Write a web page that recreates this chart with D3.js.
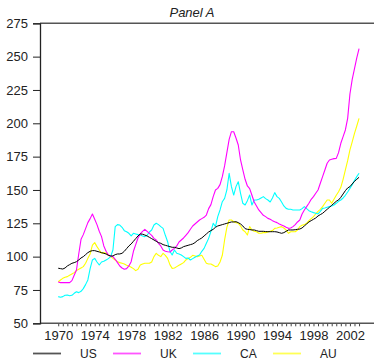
<!DOCTYPE html>
<html>
<head>
<meta charset="utf-8">
<script src="https://cdn.jsdelivr.net/npm/d3@7"></script>
<style>
  body { margin: 0; background: #fff; }
  svg text { font-family: "Liberation Sans", Arial, sans-serif; }
</style>
</head>
<body>
<div id="chart"></div>
<script>
// quarterly values, first quarter 1970 .. first quarter 2003
var startYear = 1970;

var usValues = [
  91.3, 91, 90.7, 91.5,  93, 94, 95, 95.5,  96.2, 97.5, 99, 100,  101.5, 103, 104, 104.5,
  104.5, 104, 103.5, 103,  102.5, 102, 101, 100.5,  100.5, 101.5, 102, 102,  102.5, 104, 106, 108,
  109.5, 111.5, 113.5, 115.5,  117, 116.8, 116.2, 115.5,  114.5, 113.5, 112.5, 111.5,  110.5, 110, 109, 108.5,
  108, 107.5, 107, 107,  106.5, 106, 106.5, 107.5,  108, 108.5, 109, 109.5,  110.5, 112, 113, 114,
  115.5, 117, 118.5, 119.5,  120.5, 122, 123, 123.5,  124, 124.5, 125, 125.5,  126, 126, 126.2, 125.5,
  124.5, 123, 121, 120.5,  120.3, 120, 120, 119.5,  119, 119, 119, 118.8,  118.7, 118.7, 118.7, 118.7,
  118.5, 118, 117.5, 118,  119, 120, 120, 120,  120.2, 120.5, 120.7, 121.5,  123, 124.5, 126, 127,
  128, 129, 130.5, 131.5,  132.5, 134, 135.5, 137,  138.5, 140, 141.5, 142.5,  144.5, 147, 149.5, 151.5,
  152.5, 154.5, 156.5, 158,  159.5
];

var ukValues = [
  81, 80.5, 80.5, 80.5,  80.5, 80.5, 82, 86,  90, 102, 113, 116.5,  121, 125.5, 128.5, 132,
  128, 124, 119, 115,  108, 104, 101.2, 100.5,  100, 98, 95.5, 93,  91.5, 90.5, 91, 93,
  96.2, 104, 109, 114,  117, 119, 120.5, 119,  117.5, 116, 113.7, 112.5,  110, 108, 105, 104,
  103.7, 103.5, 105, 106.2,  108, 111, 112.5, 114,  116, 118, 120.5, 123,  124.5, 126, 127.5, 128.5,
  129.5, 131.2, 136, 139,  145, 150, 151.2, 154,  160, 168, 178, 188,  193.7, 193.7, 189, 183.7,
  172.5, 165, 158, 153,  151, 146, 141, 138,  135, 133, 131, 130,  128.7, 128, 127, 126.2,
  125.5, 124.5, 123.7, 123,  122, 121.2, 121.5, 122.5,  124, 126, 127.5, 132,  135, 137.5, 140, 143,
  145, 147.5, 150, 155,  160, 165, 170, 172.5,  173, 173.5, 173.7, 178,  185, 190, 195, 203.7,
  222, 233, 241, 249,  256
];

var caValues = [
  70, 69.5, 70, 71,  71.2, 70.7, 71, 72.5,  73.7, 73, 74, 76,  79, 82.5, 91, 97.5,
  98.7, 96, 93.7, 96,  96.5, 97.5, 98.5, 100,  105, 122.5, 124, 123.7,  122, 119.5, 118.7, 117.5,
  115.5, 117.5, 117, 116.5,  116.2, 115.5, 115, 116,  118.5, 120, 123.7, 125,  124, 122.5, 121.2, 116,
  111.2, 104, 101.2, 105,  102.5, 102, 101.2, 100,  98.7, 99, 97.5, 98.5,  99.5, 100.5, 101.2, 104,
  106.2, 110, 113.7, 119,  125, 122.5, 130, 135,  141.2, 143.7, 150, 162.5,  152.5, 146.2, 152.5, 156.2,
  147.5, 140, 138.7, 142,  146.2, 138.7, 142.5, 142.5,  143, 144, 145, 143.5,  142.5, 141, 144, 148,
  145, 143.7, 141, 138,  136.2, 135.5, 135.5, 135,  135, 135, 135, 136,  137.5, 136, 134.5, 133.7,
  133, 132.5, 132, 134,  136.2, 136.5, 137, 137.5,  138, 138.7, 140, 141.5,  142.5, 144, 146, 148.5,
  151.2, 154, 157, 160,  162.5
];

var auValues = [
  81.2, 82.5, 83.7, 84.5,  85, 86, 87, 88,  89.5, 90.5, 91.5, 92.5,  95, 98.7, 102, 108.7,
  110.5, 107.5, 105, 102.5,  103, 102.5, 101.2, 100,  98.7, 97.5, 96.2, 95.5,  95, 94.5, 93.5, 93,
  92, 91, 89.5, 90.5,  93.7, 94.5, 95, 95,  95, 96, 100, 102.5,  101, 100, 102.5, 101,
  98.7, 94, 91.2, 91.5,  92.5, 93.5, 94.5, 95.5,  97.5, 98.5, 99.5, 101,  100.5, 100, 100.5, 101,
  98, 95, 94.5, 94.5,  93.5, 92.5, 93, 96,  101, 112.5, 122, 127.5,  127.5, 126.2, 125.5, 125,
  123, 120, 118.7, 116.2,  122.5, 120, 119, 118.7,  117.5, 117.5, 118, 118,  118.5, 119, 119.5, 121.2,
  121.5, 122, 122.5, 121.5,  120, 117.5, 118.7, 118.7,  118.7, 120, 122.5, 123.5,  124, 125, 127, 128.5,
  130, 132, 134, 135.5,  137.5, 140, 142.5, 142.5,  140, 143, 146, 148.7,  152, 158, 165, 172,
  180, 186, 192.5, 198,  203.7
];

var seriesNames = ["US", "UK", "CA", "AU"];
var seriesColors = ["#000000", "#ff00ff", "#00ffff", "#ffff00"];
var legendColors = ["#555555", "#ff55ff", "#55ffff", "#ffff55"];
var yTicks = [50, 75, 100, 125, 150, 175, 200, 225, 250, 275];
var xLabelYears = [1970, 1974, 1978, 1982, 1986, 1990, 1994, 1998, 2002];

var width = 374, height = 361;

var svg = d3.select("#chart").append("svg")
  .attr("width", width)
  .attr("height", height);

var x = d3.scaleLinear().domain([1968, 2004.64]).range([40, 374]);
var y = d3.scaleLinear().domain([50, 275]).range([323.3, 23.3]);

// top frame line
svg.append("line")
  .attr("x1", 40).attr("x2", width).attr("y1", y(275)).attr("y2", y(275))
  .attr("stroke", "#555").attr("stroke-width", 1.5);

// x axis: half-year ticks, labels every 4 years
var halfYears = d3.range(0, 67).map(function(i) { return 1970 + i / 2; });
var xAxis = d3.axisBottom(x)
  .tickValues(halfYears)
  .tickSize(3)
  .tickFormat(function(d) { return xLabelYears.indexOf(d) >= 0 ? d : ""; });

var gx = svg.append("g")
  .attr("transform", "translate(0," + y(50) + ")")
  .call(xAxis);
gx.select(".domain").remove();
gx.append("line")
  .attr("x1", 40).attr("x2", width).attr("y1", 0).attr("y2", 0)
  .attr("stroke", "#555").attr("stroke-width", 1.5);
gx.selectAll(".tick line").attr("stroke", "#444");
gx.selectAll(".tick text")
  .attr("y", 7)
  .style("font-size", "13px")
  .attr("fill", "#222");

// y axis
var yAxis = d3.axisLeft(y)
  .tickValues(yTicks)
  .tickSize(7)
  .tickPadding(5);

var gy = svg.append("g")
  .attr("transform", "translate(40,0)")
  .call(yAxis);
gy.select(".domain").attr("stroke", "#222").attr("stroke-width", 1.3);
gy.selectAll(".tick line").attr("stroke", "#222");
gy.selectAll(".tick text")
  .style("font-size", "13px")
  .attr("fill", "#222");

// title
svg.append("text")
  .attr("x", 192)
  .attr("y", 17)
  .attr("text-anchor", "middle")
  .style("font-size", "13px")
  .style("font-style", "italic")
  .attr("fill", "#222")
  .text("Panel A");

// lines
var allValues = [usValues, ukValues, caValues, auValues];
var line = d3.line()
  .x(function(d, i) { return x(startYear + i / 4); })
  .y(function(d) { return y(d); });

var drawOrder = [3, 2, 1, 0];
drawOrder.forEach(function(k) {
  svg.append("path")
    .datum(allValues[k])
    .attr("d", line)
    .attr("fill", "none")
    .attr("stroke", seriesColors[k])
    .attr("stroke-width", k === 0 ? 1 : 1.1)
    .attr("stroke-linejoin", "round");
});

// legend along the bottom
var legend = svg.selectAll(".legend")
  .data(seriesNames)
  .enter()
  .append("g")
    .attr("class", "legend")
    .attr("transform", function(d, i) { return "translate(" + (33 + i * 80) + ",353.5)"; });

legend.append("line")
  .attr("x1", 0).attr("x2", 28)
  .attr("y1", 0).attr("y2", 0)
  .attr("stroke", function(d, i) { return legendColors[i]; })
  .attr("stroke-width", 1.8);

legend.append("text")
  .attr("x", 47)
  .attr("y", 0)
  .attr("dy", "0.35em")
  .style("font-size", "12px")
  .attr("fill", "#222")
  .text(function(d) { return d; });
</script>
</body>
</html>
